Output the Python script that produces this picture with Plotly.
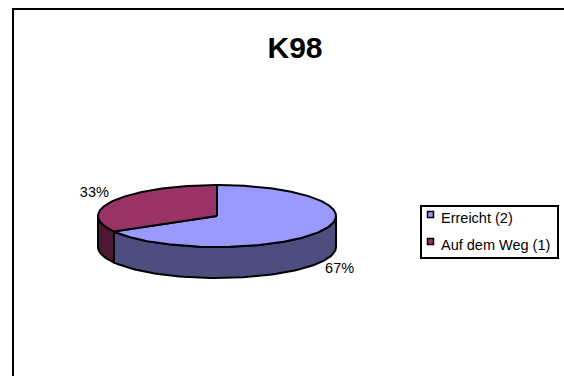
import numpy as np
import plotly.graph_objects as go

# ---- data ----
labels = ["Erreicht (2)", "Auf dem Weg (1)"]
values = [2, 1]
top_colors = ["#9999FF", "#993366"]
side_colors = ["#4D4D80", "#4D1933"]
title_text = "K98"

# ---- pie geometry (pixel layout) ----
W, H = 564, 376
cx, cy, rx, ry, depth = 217, 216, 119, 31, 31
FONT = "Liberation Sans, Arial"

def pt(theta_deg, dz=0.0):
    t = np.radians(theta_deg)
    return cx + rx * np.cos(t), cy - ry * np.sin(t) + dz

total = float(sum(values))
fig = go.Figure()

arcs = []
start = 90.0
for v in values:
    end = start - 360.0 * v / total
    arcs.append((end, start))  # (lo, hi) in math degrees
    start = end

# sides (front, visible part only)
for (lo, hi), sc in zip(arcs, side_colors):
    for k in range(-2, 3):
        a = max(lo, 180 + 360 * k)
        b = min(hi, 360 + 360 * k)
        if b > a:
            th = np.linspace(a, b, 80)
            xt, yt = pt(th)
            xb, yb = pt(th[::-1], depth)
            xs = np.concatenate([xt, xb, xt[:1]])
            ys = np.concatenate([yt, yb, yt[:1]])
            fig.add_trace(go.Scatter(x=xs, y=ys, fill="toself", fillcolor=sc,
                                     mode="lines", line=dict(color="black", width=2),
                                     showlegend=False, hoverinfo="skip"))

# top faces
for (lo, hi), tc in zip(arcs, top_colors):
    th = np.linspace(lo, hi, 200)
    xa, ya = pt(th)
    xs = np.concatenate([[cx], xa, [cx]])
    ys = np.concatenate([[cy], ya, [cy]])
    fig.add_trace(go.Scatter(x=xs, y=ys, fill="toself", fillcolor=tc,
                             mode="lines", line=dict(color="black", width=2),
                             showlegend=False, hoverinfo="skip"))

# percentage labels
for (lo, hi), v in zip(arcs, values):
    mid = np.radians((lo + hi) / 2)
    lx = cx + 1.19 * rx * np.cos(mid)
    ly = cy - 1.47 * ry * np.sin(mid) + (depth if np.sin(mid) < 0 else 0)
    fig.add_trace(go.Scatter(x=[lx], y=[ly], mode="text",
                             text=[f"{round(100 * v / total)}%"],
                             textfont=dict(family=FONT, size=14.5, color="black"),
                             showlegend=False, hoverinfo="skip"))

# legend (drawn in pixel space)
lg_x0, lg_y0, lg_x1, lg_y1 = 421, 206, 558, 258
row_gap = 27
for i, (lab, tc) in enumerate(zip(labels, top_colors)):
    my = 214.5 + i * row_gap
    fig.add_trace(go.Scatter(x=[430.5], y=[my], mode="markers",
                             marker=dict(symbol="square", size=6, color=tc,
                                         line=dict(color="black", width=1.5)),
                             showlegend=False, hoverinfo="skip"))
    fig.add_trace(go.Scatter(x=[441], y=[my + 5], mode="text", text=[lab],
                             textposition="middle right",
                             textfont=dict(family=FONT, size=14.5, color="black"),
                             showlegend=False, hoverinfo="skip"))
fig.add_shape(type="rect", x0=lg_x0, y0=lg_y0, x1=lg_x1, y1=lg_y1,
              line=dict(color="black", width=2), layer="below")

# outer frame
fig.add_shape(type="rect", x0=13, y0=9, x1=W + 20, y1=H + 20,
              line=dict(color="black", width=2))

fig.update_layout(
    width=W, height=H, margin=dict(l=0, r=0, t=0, b=0),
    paper_bgcolor="white", plot_bgcolor="white",
    xaxis=dict(range=[0, W], visible=False, fixedrange=True),
    yaxis=dict(range=[H, 0], visible=False, fixedrange=True),
    title=dict(text=f"<b>{title_text}</b>", x=295 / W, y=1 - 47 / H,
               xanchor="center", yanchor="middle",
               font=dict(family=FONT, size=30, color="black")),
    showlegend=False,
)

fig.write_html("out.html")
